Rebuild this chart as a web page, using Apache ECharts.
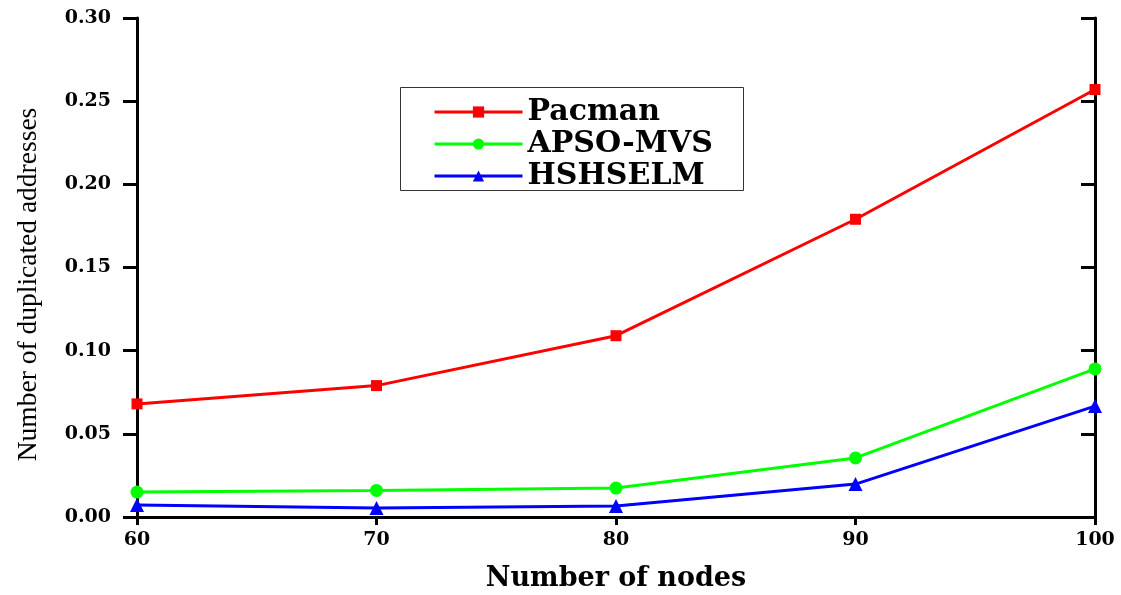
<!DOCTYPE html>
<html>
<head>
<meta charset="utf-8">
<script src="https://cdn.jsdelivr.net/npm/echarts@6/dist/echarts.min.js"></script>
<style>
html,body{margin:0;padding:0;background:#fff;}
#chart{width:1121px;height:595px;}
</style>
</head>
<body>
<div id="chart"></div>
<script>
const nodes = [60, 70, 80, 90, 100];
const pacman = [0.068, 0.079, 0.109, 0.179, 0.257];
const apsoMvs = [0.015, 0.016, 0.0174, 0.0355, 0.089];
const hshselm = [0.0072, 0.0054, 0.0066, 0.0198, 0.0667];
const seriesNames = ['Pacman', 'APSO-MVS', 'HSHSELM'];

const pairs = (vals) => nodes.map((x, i) => [x, vals[i]]);

const chart = echarts.init(document.getElementById('chart'));
const tickFont = {fontFamily: 'DejaVu Serif', fontWeight: 'bold', fontSize: 19, color: '#000'};

chart.setOption({
  animation: false,
  backgroundColor: '#fff',
  grid: {left: 137, right: 26, top: 18, bottom: 78, containLabel: false, outerBoundsMode: 'none'},
  graphic: [{
    type: 'rect',
    left: 400, top: 87,
    shape: {width: 343, height: 103},
    style: {fill: '#fff', stroke: '#333', lineWidth: 1},
    z: 5
  }],
  legend: {
    orient: 'vertical',
    left: 428, top: 91,
    z: 10,
    itemWidth: 88, itemHeight: 14, itemGap: 0,
    data: seriesNames,
    lineStyle: {width: 3},
    textStyle: {fontFamily: 'DejaVu Serif', fontWeight: 'bold', fontSize: 30, color: '#000', lineHeight: 32, padding: [0, 0, 0, 0]}
  },
  xAxis: [{
    type: 'value', min: 60, max: 100, interval: 10, position: 'bottom',
    name: 'Number of nodes', nameLocation: 'middle', nameGap: 48,
    nameTextStyle: {fontFamily: 'DejaVu Serif', fontWeight: 'bold', fontSize: 27, color: '#000'},
    axisLine: {lineStyle: {color: '#000', width: 3}},
    axisTick: {inside: false, length: 8, lineStyle: {color: '#000', width: 3}},
    axisLabel: Object.assign({margin: 14, formatter: (v) => String(v)}, tickFont),
    splitLine: {show: false}
  }, {
    type: 'value', min: 60, max: 100, interval: 10, position: 'top',
    axisLine: {show: true, lineStyle: {color: '#000', width: 3}},
    axisTick: {show: false}, axisLabel: {show: false}, splitLine: {show: false}
  }],
  yAxis: [{
    type: 'value', min: 0, max: 0.30, interval: 0.05, position: 'left',
    name: 'Number of duplicated addresses', nameLocation: 'middle', nameGap: 94,
    nameTextStyle: {fontFamily: 'Liberation Serif', fontSize: 27.5, color: '#000', padding: [0, 34, 0, 0]},
    axisLine: {show: true, lineStyle: {color: '#000', width: 3}},
    axisTick: {inside: false, length: 14, lineStyle: {color: '#000', width: 3}},
    axisLabel: Object.assign({margin: 26, formatter: (v) => v.toFixed(2)}, tickFont),
    splitLine: {show: false}
  }, {
    type: 'value', min: 0, max: 0.30, interval: 0.05, position: 'right',
    axisLine: {show: true, lineStyle: {color: '#000', width: 3}},
    axisTick: {inside: true, length: 14, lineStyle: {color: '#000', width: 3}},
    axisLabel: {show: false}, splitLine: {show: false}
  }],
  series: [{
    name: seriesNames[0], type: 'line', data: pairs(pacman),
    symbol: 'rect', symbolSize: 11,
    lineStyle: {color: '#ff0000', width: 3}, itemStyle: {color: '#ff0000'}
  }, {
    name: seriesNames[1], type: 'line', data: pairs(apsoMvs),
    symbol: 'circle', symbolSize: 13,
    lineStyle: {color: '#00ff00', width: 3}, itemStyle: {color: '#00ff00'}
  }, {
    name: seriesNames[2], type: 'line', data: pairs(hshselm),
    symbol: 'triangle', symbolSize: 14,
    lineStyle: {color: '#0000ff', width: 3}, itemStyle: {color: '#0000ff'}
  }]
});
</script>
</body>
</html>
